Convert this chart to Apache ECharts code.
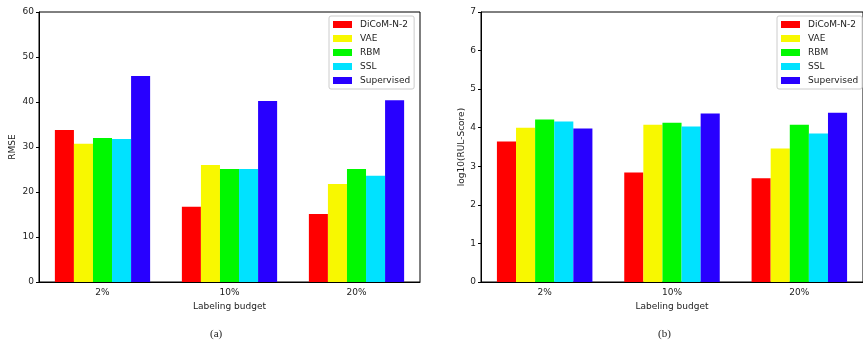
<!DOCTYPE html>
<html>
<head>
<meta charset="utf-8">
<script src="https://cdn.jsdelivr.net/npm/echarts@6/dist/echarts.min.js"></script>
<style>
  html, body { margin: 0; padding: 0; background: #fff; }
  #chart { width: 863px; height: 340px; }
</style>
</head>
<body>
<div id="chart"></div>
<script>
// categories (labeling budget)
var budgets = ['2%', '10%', '20%'];
var methods = ['DiCoM-N-2', 'VAE', 'RBM', 'SSL', 'Supervised'];
var colors = ['#ff0000', '#f8f800', '#00f800', '#00e2ff', '#2800ff'];

// (a) RMSE
var rmseDicom = [33.8, 16.7, 15.1];
var rmseVae = [30.7, 26.0, 21.8];
var rmseRbm = [32.0, 25.1, 25.1];
var rmseSsl = [31.8, 25.1, 23.6];
var rmseSup = [45.8, 40.2, 40.4];

// (b) log10(RUL-Score)
var scoreDicom = [3.64, 2.84, 2.69];
var scoreVae = [4.00, 4.08, 3.46];
var scoreRbm = [4.21, 4.13, 4.08];
var scoreSsl = [4.16, 4.03, 3.85];
var scoreSup = [3.98, 4.37, 4.39];

var rmseRows = [rmseDicom, rmseVae, rmseRbm, rmseSsl, rmseSup];
var scoreRows = [scoreDicom, scoreVae, scoreRbm, scoreSsl, scoreSup];

var font = 'DejaVu Sans';
var txt = { fontFamily: font, fontSize: 9, color: '#222' };

function xAxis(idx) {
    return {
        type: 'category', gridIndex: idx, data: budgets,
        name: 'Labeling budget', nameLocation: 'middle', nameGap: 18,
        nameTextStyle: txt,
        axisLine: { lineStyle: { color: '#000', width: 1 } },
        axisTick: { alignWithLabel: true, length: 3, lineStyle: { color: '#000' } },
        axisLabel: Object.assign({ margin: 6 }, txt),
        splitLine: { show: false }
    };
}

function yAxis(idx, max, step, name, gap) {
    return {
        type: 'value', gridIndex: idx, min: 0, max: max, interval: step,
        name: name, nameLocation: 'middle', nameGap: gap,
        nameTextStyle: txt,
        axisLine: { show: true, lineStyle: { color: '#000', width: 1 } },
        axisTick: { show: true, length: 3, lineStyle: { color: '#000' } },
        axisLabel: Object.assign({ margin: 5 }, txt),
        splitLine: { show: false }
    };
}

function legend(left) {
    return {
        orient: 'vertical', left: left, top: 16, data: methods,
        icon: 'rect', itemWidth: 19, itemHeight: 7, itemGap: 3,
        padding: [3, 4, 3, 4],
        borderColor: '#ccc', borderWidth: 1, borderRadius: 2,
        backgroundColor: '#fff',
        textStyle: { fontFamily: font, fontSize: 9, color: '#222', lineHeight: 11, padding: [0, 0, 0, 3] }
    };
}

var series = [];
methods.forEach(function (m, i) {
    series.push({
        name: m, type: 'bar', xAxisIndex: 0, yAxisIndex: 0, data: rmseRows[i],
        itemStyle: { color: colors[i] }, barGap: '0%', barCategoryGap: '25%'
    });
    series.push({
        name: m, type: 'bar', xAxisIndex: 1, yAxisIndex: 1, data: scoreRows[i],
        itemStyle: { color: colors[i] }, barGap: '0%', barCategoryGap: '25%'
    });
});

var chart = echarts.init(document.getElementById('chart'), null, { renderer: 'canvas' });
chart.setOption({
    animation: false,
    backgroundColor: '#fff',
    grid: [
        { left: 39, top: 12, width: 381, height: 270, show: true, borderColor: '#000', borderWidth: 1 },
        { left: 481, top: 12, width: 384, height: 270, show: true, borderColor: '#000', borderWidth: 1 }
    ],
    xAxis: [xAxis(0), xAxis(1)],
    yAxis: [yAxis(0, 60, 10, 'RMSE', 22), yAxis(1, 7, 1, 'log10(RUL-Score)', 15)],
    legend: [legend(329), legend(777)],
    title: [
        { text: '(a)', left: 205, top: 324, textStyle: { fontFamily: 'Liberation Serif', fontSize: 11, fontWeight: 'normal', color: '#222' } },
        { text: '(b)', left: 653, top: 324, textStyle: { fontFamily: 'Liberation Serif', fontSize: 11, fontWeight: 'normal', color: '#222' } }
    ],
    series: series
});
</script>
</body>
</html>
